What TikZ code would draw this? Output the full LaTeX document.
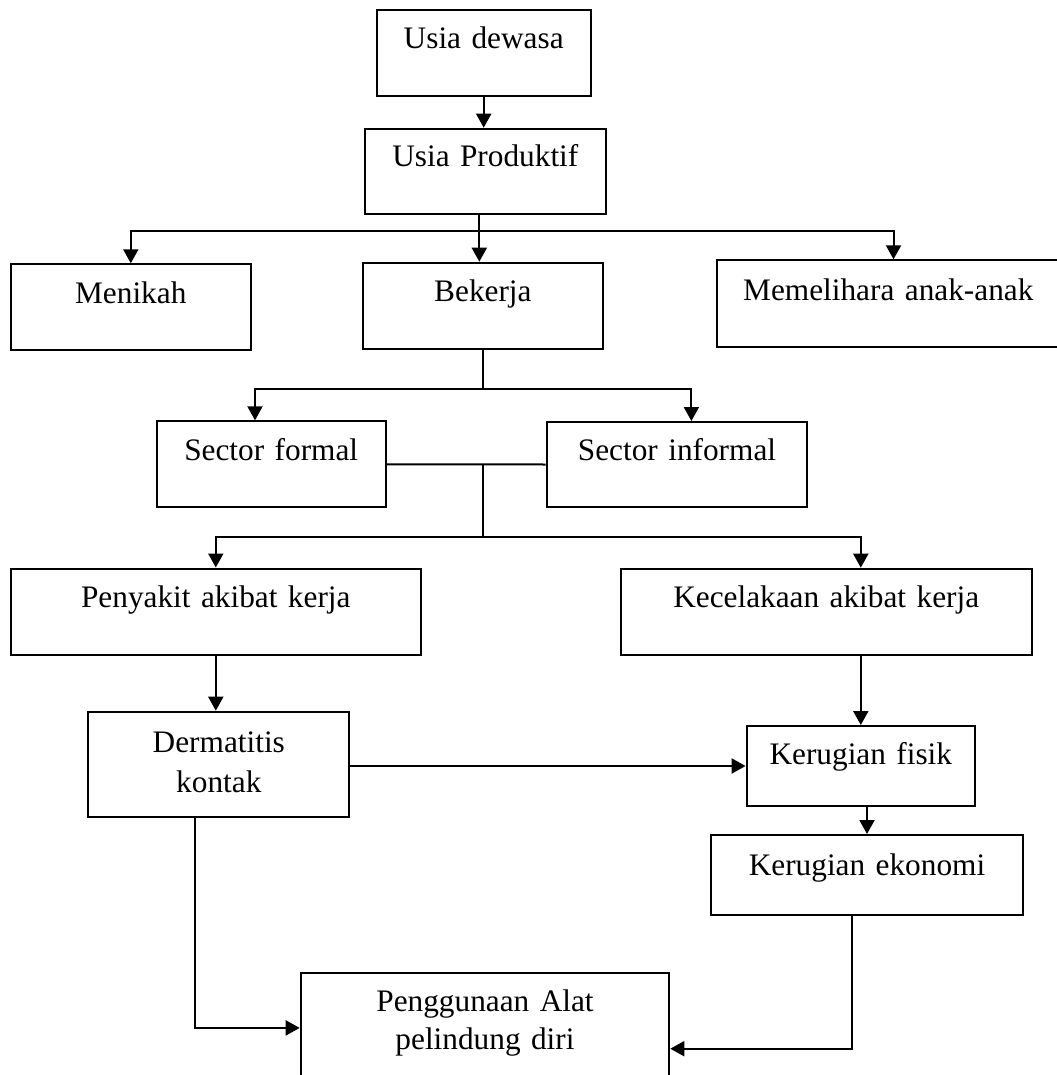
\documentclass[tikz,border=0pt]{standalone}
\usepackage{fontspec}
\setmainfont{Liberation Serif}
\usetikzlibrary{arrows.meta}

\begin{document}
\begin{tikzpicture}[x=.5pt,y=-.5pt,
  kotak/.style={draw,line width=1pt,inner sep=0pt,align=center,anchor=north,
    font=\fontsize{15.65pt}{19pt}\selectfont,text height=19.5pt,text depth=23.5pt},
  garis/.style={line width=1pt},
  panah/.style={-{Triangle[length=7pt,width=7.5pt]}}]
\useasboundingbox (0,0) rectangle (1056,1075);

\node[kotak,text width=107pt,text height=19.2pt,text depth=23.6pt] (dewasa) at (483.7,9.3) {Usia dewasa};
\node[kotak,text width=120.3pt,text height=19pt] (produktif) at (485.3,127.7) {Usia Produktif};
\node[kotak,text width=120.2pt,text height=19.7pt,text depth=23.3pt] (menikah) at (130.8,263.3) {Menikah};
\node[kotak,text width=120.2pt] (bekerja) at (482.9,261.7) {Bekerja};
\node[kotak,text width=171.7pt,text height=20.3pt,text depth=23pt] (memelihara) at (888.3,259.3) {Memelihara anak-anak};
\node[kotak,text width=114.5pt] (formal) at (271.2,420.3) {Sector formal};
\node[kotak,text width=130.3pt,text height=19pt] (informal) at (677,421) {Sector informal};
\node[kotak,text width=205.2pt] (penyakit) at (215.8,567.5) {Penyakit akibat kerja};
\node[kotak,text width=205.5pt] (kecelakaan) at (826.2,567.7) {Kecelakaan akibat kerja};
\node[kotak,text width=130.5pt,text height=20.2pt,text depth=32.5pt,
  font=\fontsize{15.65pt}{20pt}\selectfont] (dermatitis) at (218.8,710.7) {Dermatitis\\kontak};
\node[kotak,text width=114.2pt,text height=19.2pt,text depth=20.8pt] (fisik) at (860.8,725) {Kerugian fisik};
\node[kotak,text width=156.3pt,text height=20pt,text depth=20.2pt] (ekonomi) at (867,834) {Kerugian ekonomi};
\node[kotak,text width=184.3pt,text height=19.2pt,text depth=60pt] (alat) at (485,971.7) {Penggunaan Alat\\pelindung diri};

\coordinate (cabang1) at (479.3,231.5);
\coordinate (cabang2) at (482.9,389);
\coordinate (cabang3) at (483.3,536.7);

\draw[garis,panah] (dewasa.south) -- (dewasa.south |- produktif.north);
\draw[garis] (produktif.south -| cabang1) -- (cabang1);
\draw[garis,panah] (cabang1) -- (cabang1 |- bekerja.north);
\draw[garis,panah] (cabang1) -| (menikah.north);
\draw[garis,panah] (cabang1) -| ([xshift=2.6pt]memelihara.north);
\draw[garis] (bekerja.south) -- (cabang2);
\draw[garis,panah] (cabang2) -| ([xshift=-8.1pt]formal.north);
\draw[garis,panah] (cabang2) -| ([xshift=7.2pt]informal.north);
\draw[garis] (formal.east) -- (informal.west);
\draw[garis] (cabang3 |- formal.east) -- (cabang3);
\draw[garis,panah] (cabang3) -| (penyakit.north);
\draw[garis,panah] (cabang3) -| (fisik.north |- kecelakaan.north);
\draw[garis,panah] (penyakit.south) -- (penyakit.south |- dermatitis.north);
\draw[garis,panah] (fisik.north |- kecelakaan.south) -- (fisik.north);
\draw[garis,panah] (dermatitis.east |- fisik.west) -- (fisik.west);
\draw[garis,panah] (ekonomi.north |- fisik.south) -- (ekonomi.north);
\draw[garis,panah] ([xshift=-12pt]dermatitis.south) |- ([yshift=12pt]alat.west);
\draw[garis,panah] ([xshift=-7.5pt]ekonomi.south) |- ([yshift=1.6pt]alat.east);

\end{tikzpicture}
\end{document}
